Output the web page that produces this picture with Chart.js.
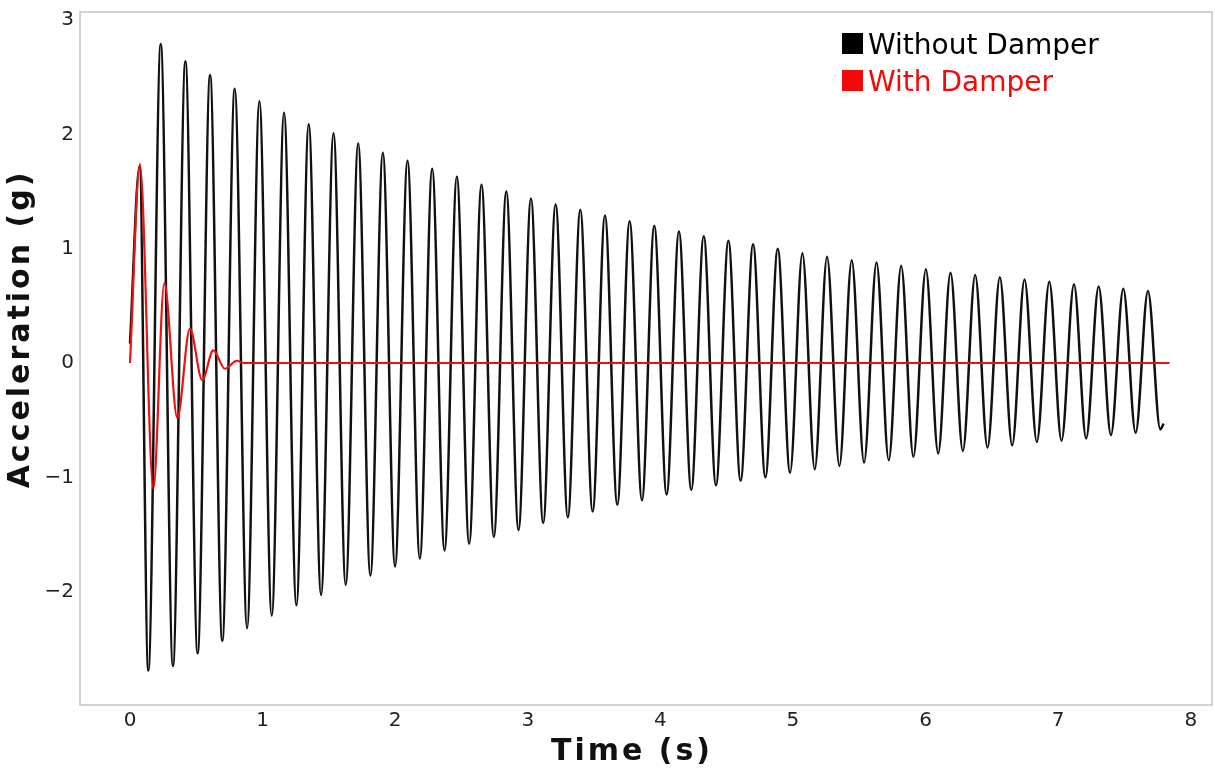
<!DOCTYPE html>
<html>
<head>
<meta charset="utf-8">
<script src="https://cdn.jsdelivr.net/npm/chart.js@4.4.0/dist/chart.umd.min.js"></script>
<style>
  body { margin: 0; background: #fff; }
  #wrap { width: 1215px; height: 770px; }
</style>
</head>
<body>
<div id="wrap"><canvas id="accelChart"></canvas></div>
<script>
// tick labels
const xTicks = [0, 1, 2, 3, 4, 5, 6, 7, 8];
const yTicks = [-2, -1, 0, 1, 2, 3];

// Without damper: start, peaks, troughs, end
const startTime = [0, 0.072];
const startAccel = [0.17, 1.72];
const peakTime = [0.232, 0.418, 0.604, 0.790, 0.976, 1.162, 1.348, 1.535, 1.721, 1.907,
  2.093, 2.279, 2.465, 2.651, 2.838, 3.024, 3.210, 3.396, 3.582, 3.768,
  3.954, 4.140, 4.327, 4.513, 4.699, 4.885, 5.071, 5.257, 5.443, 5.630,
  5.816, 6.002, 6.188, 6.374, 6.560, 6.746, 6.933, 7.119, 7.305, 7.491, 7.677];
const peakAccel = [2.79, 2.64, 2.52, 2.40, 2.29, 2.19, 2.09, 2.01, 1.92, 1.84,
  1.77, 1.70, 1.63, 1.56, 1.50, 1.44, 1.39, 1.34, 1.29, 1.24,
  1.20, 1.15, 1.11, 1.07, 1.04, 1.00, 0.96, 0.93, 0.90, 0.88,
  0.85, 0.82, 0.79, 0.77, 0.75, 0.73, 0.71, 0.69, 0.67, 0.65, 0.63];
const troughTime = [0.138, 0.324, 0.510, 0.696, 0.883, 1.069, 1.255, 1.441, 1.627, 1.813,
  1.999, 2.186, 2.372, 2.558, 2.744, 2.930, 3.116, 3.302, 3.489, 3.675,
  3.861, 4.047, 4.233, 4.419, 4.605, 4.792, 4.978, 5.164, 5.350, 5.536,
  5.722, 5.908, 6.095, 6.281, 6.467, 6.653, 6.839, 7.025, 7.211, 7.398, 7.584, 7.770];
const troughAccel = [-2.69, -2.65, -2.54, -2.43, -2.32, -2.21, -2.12, -2.03, -1.94, -1.86,
  -1.78, -1.71, -1.64, -1.58, -1.52, -1.46, -1.40, -1.35, -1.30, -1.24,
  -1.20, -1.15, -1.11, -1.07, -1.03, -1.00, -0.96, -0.93, -0.90, -0.87,
  -0.85, -0.82, -0.79, -0.77, -0.74, -0.72, -0.69, -0.68, -0.66, -0.63, -0.61, -0.58];
const endTime = [7.795];
const endAccel = [-0.53];

// With damper
const redTime = [0, 0.075, 0.176, 0.259, 0.357, 0.452, 0.545, 0.628, 0.716, 0.805, 0.86, 7.84];
const redAccel = [0, 1.74, -1.10, 0.70, -0.48, 0.30, -0.15, 0.11, -0.05, 0.02, 0, 0];

function toPoints(times, values) {
  return times.map((t, i) => ({ x: t, y: values[i] }));
}

const blackPoints = [].concat(
  toPoints(startTime, startAccel),
  toPoints(peakTime, peakAccel),
  toPoints(troughTime, troughAccel),
  toPoints(endTime, endAccel)
).sort((a, b) => a.x - b.x);

const redPoints = toPoints(redTime, redAccel);

// frame, axis titles (wide lettering) and the legend inside the top right
const framePlugin = {
  id: "frame",
  afterDraw(chart) {
    const { ctx, chartArea } = chart;
    ctx.save();
    ctx.strokeStyle = "#c4c4c4";
    ctx.lineWidth = 1.5;
    ctx.strokeRect(chartArea.left, chartArea.top, chartArea.right - chartArea.left, chartArea.bottom - chartArea.top);

    // axis titles
    ctx.fillStyle = "#111";
    ctx.font = "bold 30px 'DejaVu Sans'";
    ctx.letterSpacing = "3px";
    ctx.textAlign = "center";
    ctx.textBaseline = "middle";
    ctx.fillText(chart.options.scales.x.title.text, 632, 752);
    ctx.save();
    ctx.translate(21, 329);
    ctx.rotate(-Math.PI / 2);
    ctx.fillText(chart.options.scales.y.title.text, 0, 0);
    ctx.restore();
    ctx.letterSpacing = "0px";

    // legend
    ctx.font = "28px 'DejaVu Sans'";
    ctx.textAlign = "left";
    ctx.textBaseline = "alphabetic";
    chart.data.datasets.forEach((ds, i) => {
      const top = 33 + i * 37;
      ctx.fillStyle = ds.legendColor;
      ctx.fillRect(842, top, 21, 21);
      ctx.fillText(ds.label, 868, top + 21);
    });
    ctx.restore();
  },
};

const ctx = document.getElementById("accelChart").getContext("2d");

const accelChart = new Chart(ctx, {
  type: "line",
  data: {
    datasets: [
      {
        label: "Without Damper",
        data: blackPoints,
        borderColor: "#111111",
        legendColor: "#000000",
        borderWidth: 2.5,
        pointRadius: 0,
        cubicInterpolationMode: "monotone",
        order: 1,
      },
      {
        label: "With Damper",
        data: redPoints,
        borderColor: "#ee1111",
        legendColor: "#f20a0a",
        borderWidth: 2.2,
        pointRadius: 0,
        cubicInterpolationMode: "monotone",
        order: 0,
      },
    ],
  },
  options: {
    responsive: true,
    maintainAspectRatio: false,
    animation: false,
    layout: { padding: { top: 12, right: 3, left: 0, bottom: 0 } },
    plugins: {
      legend: { display: false },
      tooltip: { enabled: false },
    },
    scales: {
      x: {
        type: "linear",
        min: -0.377,
        max: 8.16,
        afterBuildTicks: (scale) => {
          scale.ticks = xTicks.map((v) => ({ value: v }));
        },
        afterFit: (scale) => {
          scale.height = 65;
          scale.paddingLeft = 0;
          scale.paddingRight = 0;
        },
        grid: { display: false, drawTicks: false },
        border: { display: false },
        ticks: {
          padding: 4,
          color: "#222",
          font: { family: "DejaVu Sans", size: 20 },
        },
        title: { display: false, text: "Time (s)" },
      },
      y: {
        min: -2.992,
        max: 3.071,
        afterBuildTicks: (scale) => {
          scale.ticks = yTicks.map((v) => ({ value: v }));
        },
        afterFit: (scale) => {
          scale.width = 80;
          scale.paddingTop = 0;
          scale.paddingBottom = 0;
        },
        grid: { display: false, drawTicks: false },
        border: { display: false },
        ticks: {
          padding: 6,
          color: "#222",
          font: { family: "DejaVu Sans", size: 20 },
          callback: (v) => (v < 0 ? "\u2212" + Math.abs(v) : String(v)),
        },
        title: { display: false, text: "Acceleration (g)" },
      },
    },
  },
  plugins: [framePlugin],
});
</script>
</body>
</html>
